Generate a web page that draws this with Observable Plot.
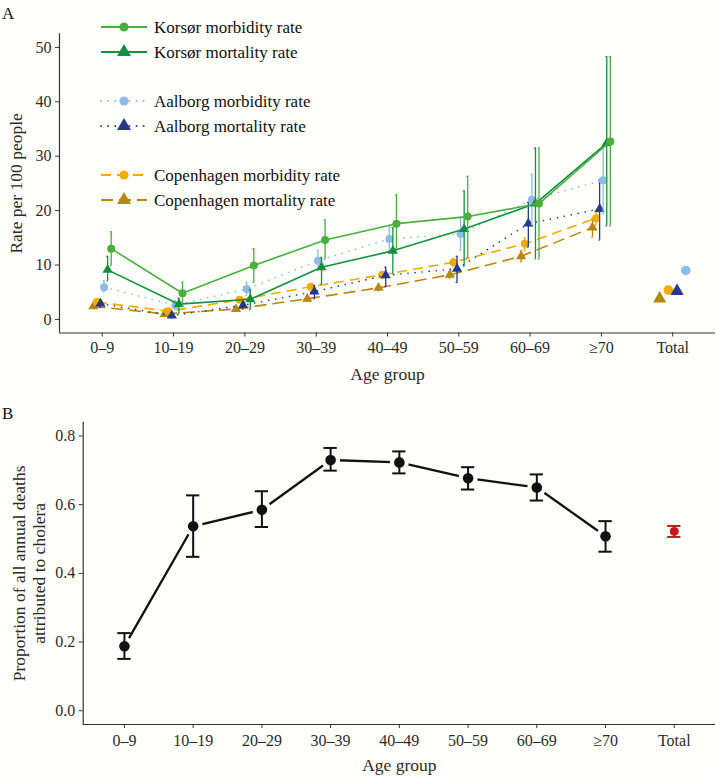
<!DOCTYPE html>
<html><head><meta charset="utf-8">
<script src="https://cdn.jsdelivr.net/npm/d3@7"></script>
<script src="https://cdn.jsdelivr.net/npm/@observablehq/plot@0.6"></script>
<style>
body{margin:0;background:#fffffc;font-family:"Liberation Serif",serif;}
#wrap{position:relative;width:716px;}
svg{display:block;}
</style></head><body><div id="wrap"></div>
<script>
// ---------- DATA ----------
const ageGroups = ["0–9","10–19","20–29","30–39","40–49","50–59","60–69","≥70"];
const xLabels = [...ageGroups, "Total"];

const korsorMorb   = [13.0, 4.8, 9.9, 14.6, 17.6, 18.9, 21.3, 32.7];
const korsorMorbLo = [9.9, 2.3, 6.8, 11.1, 13.0, 11.4, 11.1, 17.2];
const korsorMorbHi = [16.1, 6.8, 13.0, 18.3, 22.9, 26.3, 31.5, 48.3];

const korsorMort   = [9.1, 2.8, 3.7, 9.6, 12.6, 16.6, 21.3, 32.4];
const korsorMortLo = [7.1, 1.0, 1.8, 6.5, 8.4, 9.8, 11.1, 17.2];
const korsorMortHi = [11.6, 3.9, 5.5, 11.4, 16.9, 23.6, 31.5, 48.3];

const aalborgMorb   = [5.9, 2.6, 5.6, 10.8, 14.8, 15.7, 22.0, 25.6];
const aalborgMorbLo = [5.0, 1.8, 4.4, 9.0, 12.3, 12.7, 17.5, 19.4];
const aalborgMorbHi = [7.1, 3.4, 6.8, 12.7, 17.3, 18.8, 26.7, 31.9];

const aalborgMort   = [2.9, 0.7, 2.6, 5.1, 8.1, 9.3, 17.6, 20.3];
const aalborgMortLo = [2.2, 0.3, 1.9, 3.8, 6.0, 6.8, 13.3, 14.6];
const aalborgMortHi = [3.6, 1.2, 3.4, 6.2, 9.6, 11.6, 21.5, 25.6];

const cphMorb   = [3.2, 1.5, 3.6, 6.0, 8.2, 10.5, 13.9, 18.6];
const cphMorbLo = [2.8, 1.2, 3.2, 5.5, 7.6, 9.8, 12.6, 17.3];
const cphMorbHi = [3.6, 1.8, 4.0, 6.5, 8.8, 11.2, 15.0, 19.7];

const cphMort   = [2.4, 1.0, 1.9, 3.8, 5.8, 8.2, 11.6, 16.9];
const cphMortLo = [2.1, 0.8, 1.6, 3.4, 5.3, 7.6, 10.6, 15.1];
const cphMortHi = [2.7, 1.2, 2.2, 4.2, 6.3, 8.8, 12.6, 18.5];

// Totals (Copenhagen mortality, Copenhagen morbidity, Aalborg mortality, Aalborg morbidity)
const totalNames  = ["Copenhagen mortality rate","Copenhagen morbidity rate","Aalborg mortality rate","Aalborg morbidity rate"];
const totalValues = [3.8, 5.4, 5.2, 9.0];

// Panel B
const propValues = [0.188, 0.537, 0.585, 0.730, 0.723, 0.677, 0.650, 0.508];
const propLo     = [0.151, 0.448, 0.535, 0.699, 0.691, 0.644, 0.612, 0.463];
const propHi     = [0.226, 0.627, 0.639, 0.765, 0.755, 0.709, 0.688, 0.552];
const propTotal = 0.522, propTotalLo = 0.506, propTotalHi = 0.538;

const legendOrder = ["Korsør morbidity rate","Korsør mortality rate","Aalborg morbidity rate","Aalborg mortality rate","Copenhagen morbidity rate","Copenhagen mortality rate"];

// ---------- STYLES ----------
const seriesDefs = [
  {name:"Copenhagen mortality rate", v:cphMort, lo:cphMortLo, hi:cphMortHi},
  {name:"Copenhagen morbidity rate", v:cphMorb, lo:cphMorbLo, hi:cphMorbHi},
  {name:"Aalborg mortality rate", v:aalborgMort, lo:aalborgMortLo, hi:aalborgMortHi},
  {name:"Aalborg morbidity rate", v:aalborgMorb, lo:aalborgMorbLo, hi:aalborgMorbHi},
  {name:"Korsør mortality rate", v:korsorMort, lo:korsorMortLo, hi:korsorMortHi},
  {name:"Korsør morbidity rate", v:korsorMorb, lo:korsorMorbLo, hi:korsorMorbHi}
];
const style = {
  "Copenhagen mortality rate": {color:"#b8860b", symbol:"triangle", dash:"12,6", cap:"butt"},
  "Copenhagen morbidity rate": {color:"#f5aa00", symbol:"circle", dash:"10,6", cap:"butt"},
  "Aalborg mortality rate": {color:"#26388c", symbol:"triangle", dash:"0.1,7", cap:"round"},
  "Aalborg morbidity rate": {color:"#8bbbe6", symbol:"circle", dash:"0.1,7", cap:"round"},
  "Korsør mortality rate": {color:"#12903f", symbol:"triangle", dash:null, cap:"butt"},
  "Korsør morbidity rate": {color:"#48b03d", symbol:"circle", dash:null, cap:"butt"}
};
const FONT = "Liberation Serif";
const BG = "#fffffc";
const TXT = "#2b2b2b";
const TICKFS = 16, TITLEFS = 17.5;
const dodge = 0.05, dodgeTotal = 0.122;

// ---------- PANEL A ----------
const yDomA = [-2.5, 52.5];
const xDom = [0.4, 9.6];
const marksA = [];
seriesDefs.forEach((s, i) => {
  const st = style[s.name];
  const rows = s.v.map((v, j) => ({x: j + 1 + (i - 2.5) * dodge, y: v, lo: s.lo[j], hi: s.hi[j]}));
  marksA.push(Plot.line(rows, {x:"x", y:"y", stroke:st.color, strokeWidth:1.6, strokeDasharray:st.dash, strokeLinecap:st.cap}));
  marksA.push(Plot.ruleX(rows, {x:"x", y1:"lo", y2:"hi", stroke:st.color, strokeWidth:1.3}));
  marksA.push(Plot.ruleY(rows, {y:"lo", x1:d=>d.x-0.012, x2:d=>d.x+0.012, stroke:st.color, strokeWidth:1.2}));
  marksA.push(Plot.ruleY(rows, {y:"hi", x1:d=>d.x-0.012, x2:d=>d.x+0.012, stroke:st.color, strokeWidth:1.2}));
  marksA.push(Plot.dot(rows, {x:"x", y:"y", fill:st.color, r: st.symbol === "circle" ? 4 : 3.8, symbol:st.symbol}));
});
const totRows = totalNames.map((n, k) => ({name:n, x: 9 + (k - 1.5) * dodgeTotal, y: totalValues[k]}));
totRows.forEach(t => {
  const st = style[t.name];
  marksA.push(Plot.dot([t], {x:"x", y:"y", fill:st.color, r: st.symbol === "circle" ? 4.8 : 4.9, symbol:st.symbol}));
});

const plotA = Plot.plot({
  width:716, height:400,
  marginTop:33.3, marginBottom:67.5, marginLeft:59, marginRight:1,
  style:{fontFamily:FONT, fontSize:TICKFS + "px", background:BG, color:TXT},
  x:{type:"linear", domain:xDom, axis:null},
  y:{domain:yDomA, axis:null},
  marks:[
    Plot.axisX({ticks:d3.range(1, 10), tickFormat:i => xLabels[i-1], tickSize:4, tickPadding:5, fontSize:TICKFS, label:null, stroke:"#333"}),
    Plot.axisY({ticks:[0,10,20,30,40,50], tickSize:4, tickPadding:4, fontSize:TICKFS, label:null, stroke:"#333"}),
    Plot.ruleY([yDomA[0]], {stroke:"#333", strokeWidth:1.2}),
    Plot.ruleX([xDom[0]], {stroke:"#333", strokeWidth:1.2}),
    Plot.text(["Age group"], {frameAnchor:"bottom", dy:47, fontSize:TITLEFS, fill:TXT}),
    Plot.text(["Rate per 100 people"], {frameAnchor:"left", rotate:-90, dx:-43, textAnchor:"middle", fontSize:TITLEFS, fill:TXT}),
    ...marksA
  ]
});

// ---------- PANEL B ----------
const yDomB = [-0.04, 0.84];
const rowsB = propValues.map((v, j) => ({x: j + 1, y: v, lo: propLo[j], hi: propHi[j]}));
const totB = [{x: 9, y: propTotal, lo: propTotalLo, hi: propTotalHi}];
const capW = 0.097;
const plotB = Plot.plot({
  width:716, height:377,
  marginTop:21.7, marginBottom:53, marginLeft:82.7, marginRight:1,
  style:{fontFamily:FONT, fontSize:TICKFS + "px", background:BG, color:TXT},
  x:{type:"linear", domain:xDom, axis:null},
  y:{domain:yDomB, axis:null},
  marks:[
    Plot.axisX({ticks:d3.range(1, 10), tickFormat:i => xLabels[i-1], tickSize:4, tickPadding:6, fontSize:TICKFS, label:null, stroke:"#333"}),
    Plot.axisY({ticks:[0,0.2,0.4,0.6,0.8], tickFormat:d3.format(".1f"), tickSize:4, tickPadding:4, fontSize:TICKFS, label:null, stroke:"#333"}),
    Plot.ruleY([yDomB[0]], {stroke:"#333", strokeWidth:1.2}),
    Plot.ruleX([xDom[0]], {stroke:"#333", strokeWidth:1.2}),
    Plot.text(["Age group"], {frameAnchor:"bottom", dy:46, fontSize:TITLEFS, fill:TXT}),
    Plot.text(["Proportion of all annual deaths\nattributed to cholera"], {frameAnchor:"left", rotate:-90, dx:-55, textAnchor:"middle", lineAnchor:"middle", fontSize:TITLEFS, lineHeight:1.15, fill:TXT}),
    Plot.line(rowsB, {x:"x", y:"y", stroke:"#111", strokeWidth:2.3}),
    Plot.dot(rowsB, {x:"x", y:"y", fill:BG, r:9.5}),
    Plot.ruleX(rowsB, {x:"x", y1:"lo", y2:"hi", stroke:"#111", strokeWidth:2}),
    Plot.ruleY(rowsB, {y:"lo", x1:d=>d.x-capW, x2:d=>d.x+capW, stroke:"#111", strokeWidth:2}),
    Plot.ruleY(rowsB, {y:"hi", x1:d=>d.x-capW, x2:d=>d.x+capW, stroke:"#111", strokeWidth:2}),
    Plot.dot(rowsB, {x:"x", y:"y", fill:"#111", r:5.3}),
    Plot.ruleX(totB, {x:"x", y1:"lo", y2:"hi", stroke:"#c8161d", strokeWidth:2}),
    Plot.ruleY(totB, {y:"lo", x1:d=>d.x-capW, x2:d=>d.x+capW, stroke:"#c8161d", strokeWidth:2}),
    Plot.ruleY(totB, {y:"hi", x1:d=>d.x-capW, x2:d=>d.x+capW, stroke:"#c8161d", strokeWidth:2}),
    Plot.dot(totB, {x:"x", y:"y", fill:"#c8161d", r:4.5})
  ]
});

const wrap = document.getElementById("wrap");
wrap.appendChild(plotA);
wrap.appendChild(plotB);

// ---------- Panel labels & legend (SVG overlays) ----------
function addLabel(svg, t, x, y) {
  d3.select(svg).append("text").attr("x", x).attr("y", y)
    .style("font-family", FONT).style("font-size", "17px").style("text-anchor", "start")
    .attr("fill", "#111").text(t);
}
addLabel(plotA, "A", 2, 19);
addLabel(plotB, "B", 2, 19);

const lg = d3.select(plotA).append("g");
legendOrder.forEach((name, i) => {
  const st = style[name];
  const g = Math.floor(i / 2), r = i % 2;
  const y = 27 + g * 74 + r * 25;
  const row = lg.append("g").attr("transform", `translate(0,${y})`);
  row.append("line").attr("x1", 101).attr("x2", 147).attr("y1", 0).attr("y2", 0)
    .attr("stroke", st.color).attr("stroke-width", 1.8)
    .attr("stroke-dasharray", st.dash).attr("stroke-linecap", st.cap);
  const sym = d3.symbol(st.symbol === "circle" ? d3.symbolCircle : d3.symbolTriangle, Math.PI * (st.symbol === "circle" ? 4.6 : 5.2) ** 2);
  row.append("path").attr("d", sym()).attr("transform", "translate(124,0)").attr("fill", st.color);
  row.append("text").attr("x", 154).attr("y", 0).attr("dy", "0.35em")
    .style("font-family", FONT).style("font-size", "17px").style("text-anchor", "start")
    .attr("fill", "#111").text(name);
});
</script>
</body></html>
